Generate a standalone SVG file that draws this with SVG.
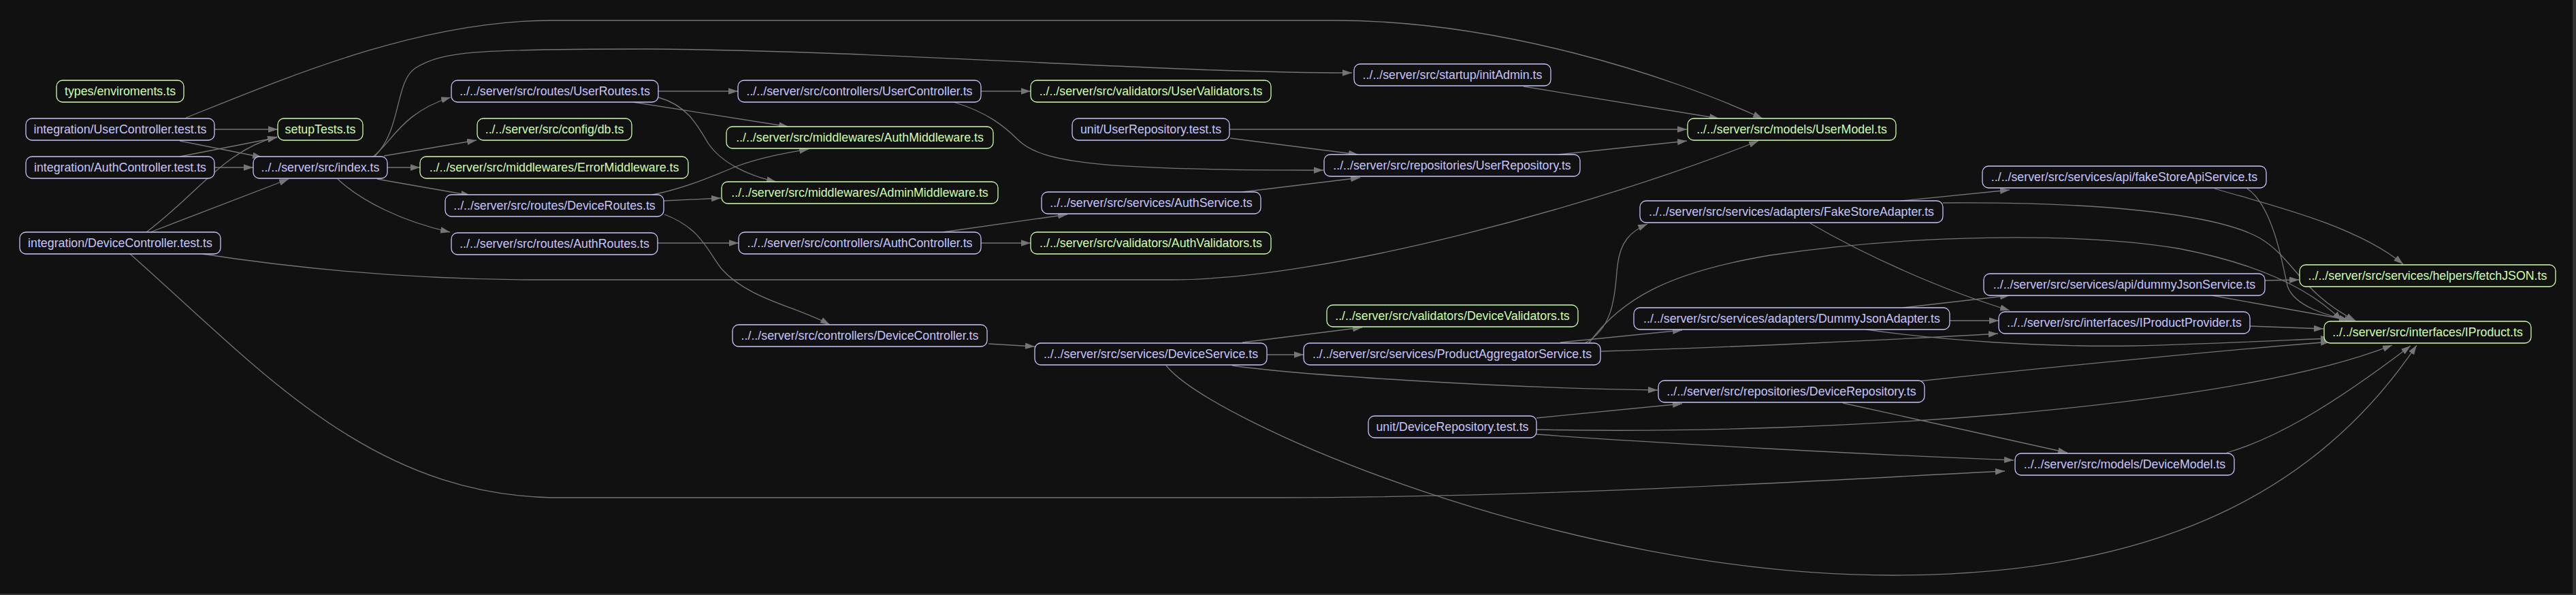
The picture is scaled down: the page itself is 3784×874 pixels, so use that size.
<svg xmlns="http://www.w3.org/2000/svg" width="3784" height="874" viewBox="0 0 3784 874">
<defs>
<style>
.n rect{fill:#111111;stroke-width:1.3}
.n text{font-family:"Liberation Sans",Arial,Helvetica,sans-serif;font-size:17.8px;text-anchor:middle}
.b rect{stroke:#c6c5fe}.b text{fill:#c6c5fe}
.g rect{stroke:#cfffac}.g text{fill:#cfffac}
#edges path{fill:none;stroke:#757575;stroke-width:1.3;marker-end:url(#arr)}
</style>
<marker id="arr" markerUnits="userSpaceOnUse" markerWidth="15" markerHeight="11" refX="14" refY="4.7" orient="auto">
<path d="M0,0 L14,4.7 L0,9.4 z" fill="#757575"/>
</marker>
</defs>
<rect x="0" y="0" width="3784" height="874" fill="#353535"/>
<rect x="0" y="0" width="3779" height="872" fill="#111111"/>
<g id="edges">
<path d="M315,190 L408,190"/>
<path d="M264,207 L385,231"/>
<path d="M273,173 C430,110 620,30 810,30 L1960,30 C2200,30 2450,110 2589,174"/>
<path d="M264,230 L407,202"/>
<path d="M315,246 L372,246"/>
<path d="M215,341 C290,285 330,220 407,201"/>
<path d="M221,341 L424,263"/>
<path d="M297,373 C460,398 620,411 800,411 L1720,411 C1950,411 2350,300 2583,207"/>
<path d="M191,373 C380,540 540,725 810,731 L1880,731 C2300,730 2700,704 2945,692"/>
<path d="M548,230 C575,210 590,165 662,143"/>
<path d="M551,229 C590,190 580,120 610,100 C650,75 700,72 950,72 C1300,74 1700,107 1986,107"/>
<path d="M564,229 L700,206"/>
<path d="M569,246 L617,246"/>
<path d="M554,263 L691,287"/>
<path d="M496,263 C530,295 590,325 661,341"/>
<path d="M967,134 L1084,134"/>
<path d="M930,150 L1158,186"/>
<path d="M967,143 C1010,155 1025,185 1040,210 C1060,240 1100,258 1140,267"/>
<path d="M1441,134 L1514,134"/>
<path d="M1401,150 C1450,165 1475,185 1495,205 C1530,240 1620,250 1944,250"/>
<path d="M958,286 C1000,278 1040,262 1080,245 C1120,230 1160,224 1188,219"/>
<path d="M975,295 L1059,291"/>
<path d="M976,315 C1030,335 1040,370 1060,395 C1100,440 1170,450 1219,477"/>
<path d="M966,357 L1085,357"/>
<path d="M1385,341 L1568,315"/>
<path d="M1441,357 L1514,357"/>
<path d="M1452,505 L1520,509"/>
<path d="M1806,190 L2478,190"/>
<path d="M1807,203 L1995,227"/>
<path d="M1825,282 L1998,261"/>
<path d="M2238,127 L2525,174"/>
<path d="M2289,227 L2478,207"/>
<path d="M1825,503 L2001,481"/>
<path d="M1861,521 L1915,521"/>
<path d="M1810,537 C1900,550 2200,570 2435,573"/>
<path d="M1713,537 C1780,620 2300,845 2780,845 C3200,845 3420,700 3550,507"/>
<path d="M2707,592 L3037,665"/>
<path d="M2818,560 C3050,535 3300,512 3423,502"/>
<path d="M2257,614 L2471,593"/>
<path d="M2257,631 C2500,636 2750,625 2950,608 C3150,590 3380,560 3514,507"/>
<path d="M2257,638 C2450,652 2750,668 2958,676"/>
<path d="M3271,665 C3340,645 3420,600 3541,508"/>
<path d="M2328,504 C2375,480 2372,420 2376,390 C2380,355 2395,340 2420,329"/>
<path d="M2292,503 L2471,485"/>
<path d="M2352,516 C2550,510 2800,498 2935,490"/>
<path d="M2334,504 C2380,440 2450,400 2600,375 C2800,345 3050,340 3200,365 C3330,390 3400,430 3440,471"/>
<path d="M2792,295 L2952,279"/>
<path d="M2659,328 C2740,375 2850,425 2952,456"/>
<path d="M2854,298 C3050,296 3250,310 3320,350 C3370,380 3380,430 3460,471"/>
<path d="M3253,277 C3330,300 3460,330 3530,388"/>
<path d="M3301,277 C3335,300 3350,370 3360,420 C3370,450 3420,465 3458,471"/>
<path d="M3327,412 L3377,411"/>
<path d="M3249,434 L3450,470"/>
<path d="M2795,452 L2952,434"/>
<path d="M2864,471 L2936,471"/>
<path d="M2741,484 C2850,500 3000,510 3134,508 C3250,505 3350,500 3423,497"/>
<path d="M3305,479 L3413,483"/>
</g>
<g id="n1" class="n g"><rect x="83" y="118" width="187" height="32" rx="9"/><text x="176.5" y="140">types/enviroments.ts</text></g>
<g id="n2" class="n b"><rect x="38" y="174" width="277" height="32" rx="9"/><text x="176.5" y="196">integration/UserController.test.ts</text></g>
<g id="n3" class="n g"><rect x="408" y="174" width="125" height="32" rx="9"/><text x="470.5" y="196">setupTests.ts</text></g>
<g id="n4" class="n b"><rect x="38" y="230" width="277" height="32" rx="9"/><text x="176.5" y="252">integration/AuthController.test.ts</text></g>
<g id="n5" class="n b"><rect x="372" y="230" width="197" height="32" rx="9"/><text x="470.5" y="252">../../server/src/index.ts</text></g>
<g id="n6" class="n b"><rect x="29" y="341" width="295" height="32" rx="9"/><text x="176.5" y="363">integration/DeviceController.test.ts</text></g>
<g id="n7" class="n b"><rect x="663" y="118" width="304" height="32" rx="9"/><text x="815" y="140">../../server/src/routes/UserRoutes.ts</text></g>
<g id="n8" class="n g"><rect x="701" y="174" width="227" height="32" rx="9"/><text x="814.5" y="196">../../server/src/config/db.ts</text></g>
<g id="n9" class="n g"><rect x="617" y="230" width="394" height="32" rx="9"/><text x="814" y="252">../../server/src/middlewares/ErrorMiddleware.ts</text></g>
<g id="n10" class="n b"><rect x="654" y="286" width="321" height="32" rx="9"/><text x="814.5" y="308">../../server/src/routes/DeviceRoutes.ts</text></g>
<g id="n11" class="n b"><rect x="663" y="342" width="303" height="32" rx="9"/><text x="814.5" y="364">../../server/src/routes/AuthRoutes.ts</text></g>
<g id="n12" class="n b"><rect x="1084" y="118" width="357" height="32" rx="9"/><text x="1262.5" y="140">../../server/src/controllers/UserController.ts</text></g>
<g id="n13" class="n g"><rect x="1067" y="186" width="392" height="32" rx="9"/><text x="1263" y="208">../../server/src/middlewares/AuthMiddleware.ts</text></g>
<g id="n14" class="n g"><rect x="1060" y="267" width="406" height="32" rx="9"/><text x="1263" y="289">../../server/src/middlewares/AdminMiddleware.ts</text></g>
<g id="n15" class="n b"><rect x="1085" y="341" width="356" height="32" rx="9"/><text x="1263" y="363">../../server/src/controllers/AuthController.ts</text></g>
<g id="n16" class="n b"><rect x="1076" y="477" width="374" height="32" rx="9"/><text x="1263" y="499">../../server/src/controllers/DeviceController.ts</text></g>
<g id="n17" class="n g"><rect x="1514" y="118" width="353" height="32" rx="9"/><text x="1690.5" y="140">../../server/src/validators/UserValidators.ts</text></g>
<g id="n18" class="n b"><rect x="1575" y="174" width="231" height="32" rx="9"/><text x="1690.5" y="196">unit/UserRepository.test.ts</text></g>
<g id="n19" class="n b"><rect x="1530" y="282" width="322" height="32" rx="9"/><text x="1691" y="304">../../server/src/services/AuthService.ts</text></g>
<g id="n20" class="n g"><rect x="1514" y="341" width="353" height="32" rx="9"/><text x="1690.5" y="363">../../server/src/validators/AuthValidators.ts</text></g>
<g id="n21" class="n b"><rect x="1520" y="504" width="341" height="32" rx="9"/><text x="1690.5" y="526">../../server/src/services/DeviceService.ts</text></g>
<g id="n22" class="n b"><rect x="1989" y="94" width="289" height="32" rx="9"/><text x="2133.5" y="116">../../server/src/startup/initAdmin.ts</text></g>
<g id="n23" class="n b"><rect x="1945" y="227" width="376" height="32" rx="9"/><text x="2133" y="249">../../server/src/repositories/UserRepository.ts</text></g>
<g id="n24" class="n g"><rect x="2479" y="174" width="306" height="32" rx="9"/><text x="2632" y="196">../../server/src/models/UserModel.ts</text></g>
<g id="n25" class="n g"><rect x="1949" y="448" width="369" height="32" rx="9"/><text x="2133.5" y="470">../../server/src/validators/DeviceValidators.ts</text></g>
<g id="n26" class="n b"><rect x="1915" y="504" width="436" height="32" rx="9"/><text x="2133" y="526">../../server/src/services/ProductAggregatorService.ts</text></g>
<g id="n27" class="n b"><rect x="2010" y="611" width="247" height="32" rx="9"/><text x="2133.5" y="633">unit/DeviceRepository.test.ts</text></g>
<g id="n28" class="n b"><rect x="2409" y="295" width="445" height="32" rx="9"/><text x="2631.5" y="317">../../server/src/services/adapters/FakeStoreAdapter.ts</text></g>
<g id="n29" class="n b"><rect x="2400" y="452" width="464" height="32" rx="9"/><text x="2632" y="474">../../server/src/services/adapters/DummyJsonAdapter.ts</text></g>
<g id="n30" class="n b"><rect x="2436" y="559" width="391" height="32" rx="9"/><text x="2631.5" y="581">../../server/src/repositories/DeviceRepository.ts</text></g>
<g id="n31" class="n b"><rect x="2912" y="244" width="417" height="32" rx="9"/><text x="3120.5" y="266">../../server/src/services/api/fakeStoreApiService.ts</text></g>
<g id="n32" class="n b"><rect x="2914" y="402" width="413" height="32" rx="9"/><text x="3120.5" y="424">../../server/src/services/api/dummyJsonService.ts</text></g>
<g id="n33" class="n b"><rect x="2936" y="458" width="369" height="32" rx="9"/><text x="3120.5" y="480">../../server/src/interfaces/IProductProvider.ts</text></g>
<g id="n34" class="n b"><rect x="2960" y="666" width="322" height="32" rx="9"/><text x="3121" y="688">../../server/src/models/DeviceModel.ts</text></g>
<g id="n35" class="n g"><rect x="3378" y="389" width="376" height="32" rx="9"/><text x="3566" y="411">../../server/src/services/helpers/fetchJSON.ts</text></g>
<g id="n36" class="n g"><rect x="3414" y="472" width="304" height="32" rx="9"/><text x="3566" y="494">../../server/src/interfaces/IProduct.ts</text></g>
</svg>
